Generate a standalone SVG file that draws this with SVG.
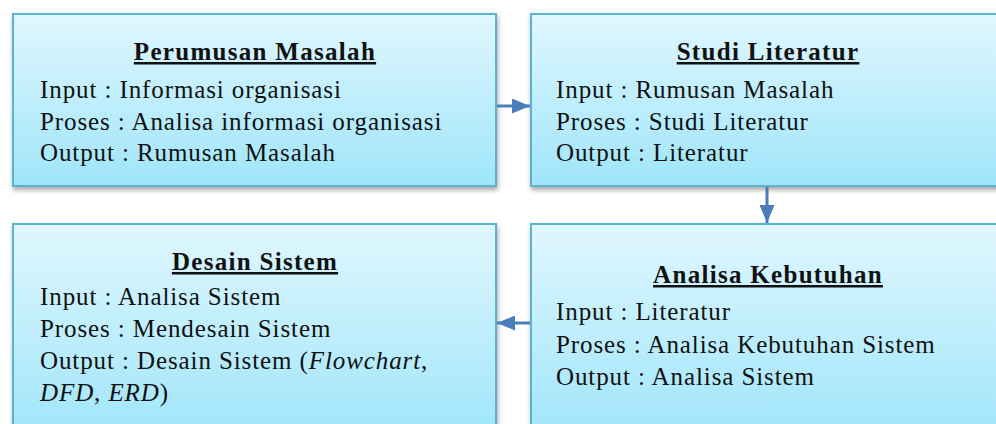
<svg xmlns="http://www.w3.org/2000/svg" width="996" height="424" viewBox="0 0 996 424">
<defs>
<linearGradient id="g" x1="0" y1="0" x2="0" y2="1">
<stop offset="0" stop-color="#e0f7fe"/>
<stop offset="1" stop-color="#9fe5fa"/>
</linearGradient>
<filter id="sh" x="-5%" y="-5%" width="110%" height="120%">
<feGaussianBlur in="SourceAlpha" stdDeviation="2.5"/>
<feOffset dx="1" dy="3" result="b"/>
<feComponentTransfer><feFuncA type="linear" slope="0.35"/></feComponentTransfer>
<feMerge><feMergeNode/><feMergeNode in="SourceGraphic"/></feMerge>
</filter>
<marker id="ah" viewBox="0 0 12 10" refX="12" refY="5" markerWidth="6" markerHeight="5" orient="auto" markerUnits="strokeWidth">
<path d="M0,0 L12,5 L0,10 Z" fill="#4a7ebb"/>
</marker>
</defs>
<style>
.box{fill:url(#g);stroke:#5ab4d0;stroke-width:2;filter:url(#sh)}
text{font-family:"Liberation Serif","Times New Roman",serif;font-size:25px;fill:#111;letter-spacing:0.9px}
.t{font-weight:bold;text-decoration:underline;text-anchor:middle;letter-spacing:1.3px}
.c{stroke:#4a7ebb;stroke-width:3;fill:none;marker-end:url(#ah)}
</style>
<g id="n1">
<rect class="box" x="13" y="14" width="483" height="172"/>
<text class="t" x="255" y="60">Perumusan Masalah</text>
<text x="40" y="98">Input : Informasi organisasi</text>
<text x="40" y="130">Proses : Analisa informasi organisasi</text>
<text x="40" y="161">Output : Rumusan Masalah</text>
</g>
<g id="n2">
<rect class="box" x="531" y="14" width="480" height="172"/>
<text class="t" x="768" y="60">Studi Literatur</text>
<text x="556" y="98">Input : Rumusan Masalah</text>
<text x="556" y="130">Proses : Studi Literatur</text>
<text x="556" y="161">Output : Literatur</text>
</g>
<g id="n3">
<rect class="box" x="13" y="224" width="483" height="215"/>
<text class="t" x="255" y="270">Desain Sistem</text>
<text x="40" y="305">Input : Analisa Sistem</text>
<text x="40" y="337">Proses : Mendesain Sistem</text>
<text x="40" y="369">Output : Desain Sistem (<tspan font-style="italic">Flowchart</tspan>,</text>
<text x="40" y="401"><tspan font-style="italic">DFD</tspan>, <tspan font-style="italic">ERD</tspan>)</text>
</g>
<g id="n4">
<rect class="box" x="531" y="224" width="480" height="215"/>
<text class="t" x="768" y="283">Analisa Kebutuhan</text>
<text x="556" y="320">Input : Literatur</text>
<text x="556" y="353">Proses : Analisa Kebutuhan Sistem</text>
<text x="556" y="385">Output : Analisa Sistem</text>
</g>
<g id="connectors">
<line class="c" x1="497" y1="106" x2="530" y2="106"/>
<line class="c" x1="767" y1="187" x2="767" y2="223"/>
<line class="c" x1="530" y1="323" x2="497" y2="323"/>
</g>
</svg>
